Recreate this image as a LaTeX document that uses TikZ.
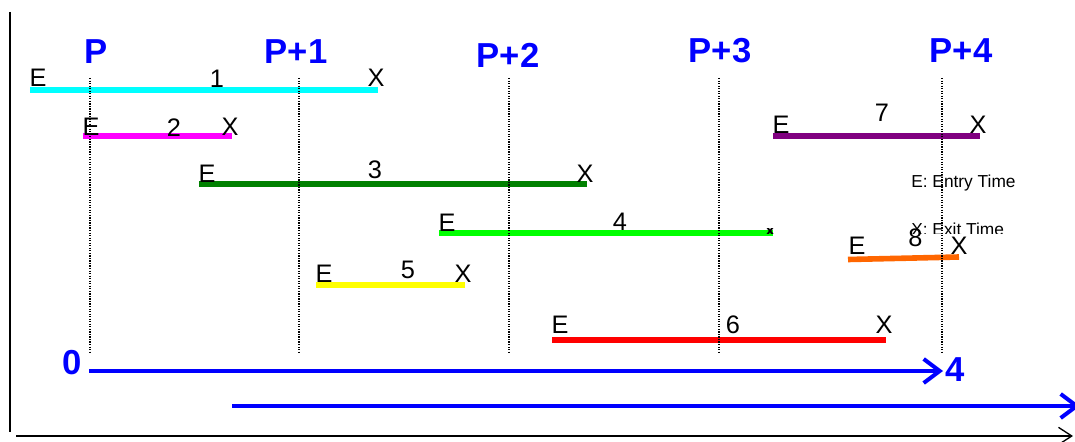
\documentclass[tikz,border=0pt]{standalone}
\usepackage{fontspec}
\setmainfont{Liberation Sans}
\usetikzlibrary{arrows.meta}
\definecolor{cyanbar}{RGB}{0,255,255}
\definecolor{magbar}{RGB}{255,0,255}
\definecolor{yelbar}{RGB}{255,255,0}
\definecolor{redbar}{RGB}{255,0,0}
\definecolor{darkgreen}{RGB}{0,128,0}
\definecolor{lime}{RGB}{0,255,0}
\definecolor{orng}{RGB}{255,102,0}
\definecolor{purp}{RGB}{128,0,128}
\definecolor{pblue}{RGB}{0,0,255}
\tikzset{
  bar/.style={line width=4.2pt},
  lbl/.style={inner sep=0pt, font=\fontsize{19}{21}\selectfont},
  plbl/.style={inner sep=0pt, text=pblue, font=\fontsize{26}{28}\selectfont\bfseries},
  legend/.style={inner sep=0pt, anchor=base west, font=\fontsize{13}{15}\selectfont},
  guide/.style={densely dotted, line width=0.9pt},
  timearrow/.style={draw=pblue, line width=3pt, -{Straight Barb[length=12pt,width=18pt]}},
  axis/.style={line width=1.3pt, -{Straight Barb[length=10pt,width=13pt,line width=1pt]}}
}

\begin{document}
\begin{tikzpicture}[x=0.75pt, y=-0.75pt]
  \useasboundingbox (0,0) rectangle (1075,442);

  % axes
  \coordinate (ytop) at (10,12);
  \coordinate (ybot) at (10,432);
  \draw[line width=1.4pt] (ytop) -- (ybot);
  \coordinate (tstart) at (16,436);
  \coordinate (tend) at (1073,436);
  \draw[axis] (tstart) -- (tend);

  % period labels
  \foreach \name/\x/\y/\txt in {p0/96/52/P, p1/296/52/P+1, p2/508/55/P+2, p3/720/51/P+3, p4/961/51/P+4}
    \node[plbl] (\name) at (\x,\y) {\txt};

  % jobs: number/colour/y/entry/exit/label x/label y/E-X y
  \foreach \n/\col/\y/\xa/\xb/\nx/\ny/\ly in {1/cyanbar/90/30/378/217/79/78, 2/magbar/136/83/232/174/128/127,
      3/darkgreen/184/199/587/375/170/173.5, 5/yelbar/285/316/465/408/270/274,
      6/redbar/340/552/886/733/325/325, 7/purp/136/773/980/882/113/124.5} {
    \coordinate (e\n) at (\xa,\y);
    \coordinate (x\n) at (\xb,\y);
    \draw[bar, \col] (e\n) -- (x\n);
    \node[lbl] (E\n) at (\xa+8,\ly) {E};
    \node[lbl] (n\n) at (\nx,\ny) {\n};
    \node[lbl] (X\n) at (\xb-2,\ly) {X};
  }

  % job 4, exit mark mostly hidden
  \coordinate (e4) at (439,233);
  \coordinate (x4) at (773,233);
  \draw[bar, lime] (e4) -- (x4);
  \node[lbl] (E4) at (447,223) {E};
  \node[lbl] (n4) at (620,222) {4};
  \begin{scope}
    \clip (755,229) rectangle (785,234);
    \node[lbl] (X4) at (770,232) {X};
  \end{scope}

  % job 8
  \coordinate (e8) at (848,259.5);
  \coordinate (x8) at (959,257);
  \draw[bar, orng] (e8) -- (x8);
  \node[lbl] (E8) at (857,245.5) {E};
  \node[lbl] (n8) at (915.5,238) {8};
  \node[lbl] (X8) at (959,245.5) {X};

  % legend
  \node[legend] (entry) at (911,188) {E: Entry Time};
  \begin{scope}
    \clip (900,200) rectangle (1075,234);
    \node[legend] (exit) at (911,236) {X: Exit Time};
  \end{scope}

  % period guides
  \foreach \i/\x in {0/90, 1/299, 2/509, 3/719, 4/942} {
    \coordinate (g\i top) at (\x,78);
    \coordinate (g\i bot) at (\x,352);
    \draw[guide] (g\i top) -- (g\i bot);
  }

  % time windows
  \node[plbl] (zero) at (72,363) {0};
  \coordinate (a0) at (89,371);
  \coordinate (a4) at (943,371);
  \draw[timearrow] (a0) -- (a4);
  \node[plbl] (four) at (955,370) {4};
  \coordinate (b0) at (232,406);
  \coordinate (b1) at (1080,406);
  \draw[timearrow] (b0) -- (b1);
\end{tikzpicture}
\end{document}
